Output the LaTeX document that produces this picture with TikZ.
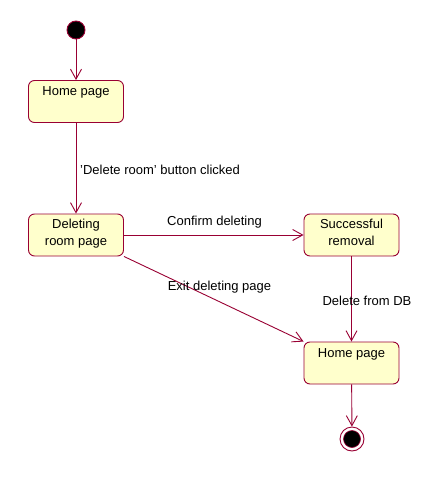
\documentclass[tikz,border=0pt]{standalone}
\usepackage{fontspec}
\setmainfont{Liberation Sans}
\usetikzlibrary{arrows.meta}
\definecolor{umlline}{RGB}{153,0,51}
\definecolor{umlfill}{RGB}{255,255,204}
\begin{document}
\begin{tikzpicture}[x=1pt,y=-1pt,
  font=\fontsize{13}{15}\selectfont,
  statebox/.style={draw=umlline, fill=umlfill, line width=0.9pt, rounded corners=6pt,
    minimum width=95pt, minimum height=42pt, inner sep=0pt},
  stext/.style={anchor=north, inner sep=0pt, align=center, font=\fontsize{13}{16.5}\selectfont},
  trans/.style={draw=umlline, line width=0.9pt, -{Straight Barb[length=10pt,width=11pt,line width=0.9pt]}},
  elabel/.style={inner sep=0pt, anchor=center}]
\useasboundingbox (0,0) rectangle (429,481);
\fill[white] (0,0) rectangle (429,481);
% states
\node[circle, fill=black, draw=umlline, line width=0.9pt, minimum size=18pt, inner sep=0pt] (init) at (76,30) {};
\node[statebox] (home1) at (76,101.5) {};
\node[stext] (home1t) at ([yshift=-6.5pt]home1.north) {Home page};
\node[statebox] (del) at (76,235) {};
\node[stext] (delt) at ([yshift=-5.5pt]del.north) {Deleting\\room page};
\node[statebox] (succ) at (351.5,235) {};
\node[stext] (succt) at ([yshift=-5.5pt]succ.north) {Successful\\removal};
\node[statebox] (home2) at (351.5,363) {};
\node[stext] (home2t) at ([yshift=-6.5pt]home2.north) {Home page};
\node[circle, draw=umlline, line width=0.9pt, minimum size=24pt, inner sep=0pt] (final) at (352,439) {};
\node[circle, fill=black, draw=umlline, line width=0.6pt, minimum size=17pt, inner sep=0pt] (finalin) at (352,439) {};
% transitions
\draw[trans] (init) -- (home1);
\draw[trans] (home1) -- (del);
\draw[trans] (del.east) -- (succ.west);
\draw[trans] (del.south east) -- (home2.north west);
\draw[trans] (succ) -- (home2);
\draw[trans] (home2) -- (final);
% labels
\node[elabel, anchor=west] (l1) at (80,169.5) {'Delete room' button clicked};
\node[elabel] (l2) at (214.5,222.5) {Confirm deleting};
\node[elabel] (l3) at (219.5,287.5) {Exit deleting page};
\node[elabel] (l4) at (367,300.5) {Delete from DB};
\end{tikzpicture}
\end{document}
